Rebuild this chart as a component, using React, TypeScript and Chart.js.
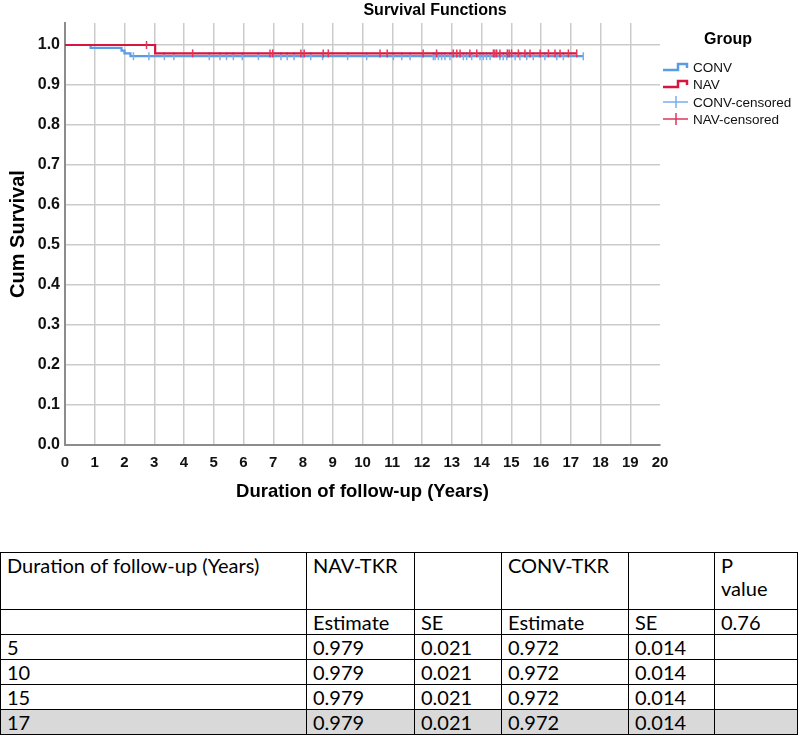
import React, { useEffect, useRef } from 'react';
import { Chart, registerables } from 'chart.js';

Chart.register(...registerables);

// ---- data ----
const convTimes = [0, 0.86, 1.9, 2.0, 2.2, 17.42];
const convSurv = [1, 0.993, 0.986, 0.979, 0.972, 0.972];
const navTimes = [0, 3.03, 17.2];
const navSurv = [1, 0.979, 0.979];

const convCensored = [
  2.3, 2.82, 3.34, 3.66, 4.85, 5.21, 5.43, 5.66, 5.96, 6.5, 7.26, 7.47, 7.7, 8.26, 8.66, 9.5,
  10.14, 11.04, 11.32, 11.6, 12.38, 12.44, 12.55, 12.66, 12.77, 12.94, 13.39, 13.5, 13.67,
  13.95, 14.06, 14.17, 14.29, 14.62, 14.73, 14.85, 15.13, 15.29, 15.52, 15.74, 16.13, 16.53,
  16.75, 17.42,
];
const navCensored = [
  2.74, 4.29, 6.89, 6.98, 7.93, 8.04, 8.68, 8.85, 10.59, 10.83, 12.04, 12.49, 13.05, 13.17,
  13.28, 13.61, 13.84, 14.4, 14.45, 14.51, 14.62, 14.87, 14.93, 15.01, 15.24, 15.46, 15.63,
  15.97, 16.25, 16.47, 16.64, 16.92, 17.2,
];

const xTicks = [0, 1, 2, 3, 4, 5, 6, 7, 8, 9, 10, 11, 12, 13, 14, 15, 16, 17, 18, 19, 20];
const yTicks = [0, 0.1, 0.2, 0.3, 0.4, 0.5, 0.6, 0.7, 0.8, 0.9, 1.0];

const chartTitle = 'Survival Functions';
const xTitle = 'Duration of follow-up (Years)';
const yTitle = 'Cum Survival';
const legendTitle = 'Group';
const legendLabels = ['CONV', 'NAV', 'CONV-censored', 'NAV-censored'];

const tableHeader1 = ['Duration of follow-up (Years)', 'NAV-TKR', '', 'CONV-TKR', '', 'P\nvalue'];
const tableHeader2 = ['', 'Estimate', 'SE', 'Estimate', 'SE', '0.76'];
const tableYears = ['5', '10', '15', '17'];
const navEstimate = ['0.979', '0.979', '0.979', '0.979'];
const navSE = ['0.021', '0.021', '0.021', '0.021'];
const convEstimate = ['0.972', '0.972', '0.972', '0.972'];
const convSE = ['0.014', '0.014', '0.014', '0.014'];

const BLUE = '#5b9be3';
const RED = '#d7163f';
const BLUE_C = '#79aef0';
const RED_C = '#e0365c';

function survAt(times: number[], surv: number[], t: number) {
  let s = surv[0];
  for (let i = 0; i < times.length; i++) if (times[i] <= t) s = surv[i];
  return s;
}

const FONT = '"Liberation Sans", Arial, sans-serif';

const overlayPlugin = {
  id: 'overlay',
  afterDraw(chart: any) {
    const ctx = chart.ctx as CanvasRenderingContext2D;
    const { left, right, top, bottom } = chart.chartArea;
    ctx.save();
    ctx.fillStyle = '#000';
    ctx.textBaseline = 'middle';
    ctx.textAlign = 'center';
    ctx.font = `bold 16px ${FONT}`;
    ctx.fillText(chartTitle, 435, 11);
    ctx.font = `bold 18.5px ${FONT}`;
    ctx.fillText(xTitle, (left + right) / 2, bottom + 47);
    ctx.save();
    ctx.translate(18, (top + bottom) / 2);
    ctx.rotate(-Math.PI / 2);
    ctx.font = `bold 20px ${FONT}`;
    ctx.fillText(yTitle, 0, 0);
    ctx.restore();

    // legend
    ctx.font = `bold 16px ${FONT}`;
    ctx.fillText(legendTitle, 728, 40);
    ctx.textAlign = 'left';
    ctx.font = `13.5px ${FONT}`;
    const ys = [67, 84, 102, 119];
    const x0 = right + 3;
    const colors = [BLUE, RED, BLUE_C, RED_C];
    legendLabels.forEach((lab, i) => {
      const y = ys[i];
      ctx.strokeStyle = colors[i];
      ctx.beginPath();
      if (i < 2) {
        ctx.lineWidth = 2.5;
        ctx.moveTo(x0, y + 3);
        ctx.lineTo(x0 + 15, y + 3);
        ctx.lineTo(x0 + 15, y - 3);
        ctx.lineTo(x0 + 24, y - 3);
        ctx.lineTo(x0 + 24, y + 1);
      } else {
        ctx.lineWidth = 1.5;
        ctx.moveTo(x0, y);
        ctx.lineTo(x0 + 25, y);
        ctx.moveTo(x0 + 13, y - 6);
        ctx.lineTo(x0 + 13, y + 6);
      }
      ctx.stroke();
      ctx.fillStyle = '#111';
      ctx.fillText(lab, x0 + 30, y + 1);
    });
    ctx.restore();
  },
};

function KMChart() {
  const ref = useRef<HTMLCanvasElement | null>(null);
  useEffect(() => {
    if (!ref.current) return;
    const convLine = convTimes.map((t, i) => ({ x: t, y: convSurv[i] }));
    const navLine = navTimes.map((t, i) => ({ x: t, y: navSurv[i] }));
    const convC = convCensored.map((t) => ({ x: t, y: survAt(convTimes, convSurv, t) }));
    const navC = navCensored.map((t) => ({ x: t, y: survAt(navTimes, navSurv, t) }));
    const chart = new Chart(ref.current, {
      type: 'scatter',
      data: {
        datasets: [
          {
            label: 'NAV-censored',
            data: navC,
            order: 0,
            pointStyle: 'line',
            rotation: 90,
            radius: 4,
            borderColor: RED_C,
            backgroundColor: RED_C,
            borderWidth: 1.5,
            showLine: false,
          } as any,
          {
            label: 'NAV',
            data: navLine,
            order: 1,
            showLine: true,
            stepped: true,
            borderColor: RED,
            borderWidth: 2.2,
            pointRadius: 0,
            fill: false,
          },
          {
            label: 'CONV-censored',
            data: convC,
            order: 2,
            pointStyle: 'line',
            rotation: 90,
            radius: 4,
            borderColor: BLUE_C,
            backgroundColor: BLUE_C,
            borderWidth: 1.5,
            showLine: false,
          },
          {
            label: 'CONV',
            data: convLine,
            order: 3,
            showLine: true,
            stepped: true,
            borderColor: BLUE,
            borderWidth: 2.2,
            pointRadius: 0,
            fill: false,
          },
        ],
      },
      options: {
        animation: false,
        responsive: false,
        maintainAspectRatio: false,
        events: [],
        layout: { padding: { left: 0, right: 140, top: 23, bottom: 0 } },
        plugins: {
          legend: { display: false },
          tooltip: { enabled: false },
          title: { display: false },
        },
        scales: {
          x: {
            type: 'linear',
            min: 0,
            max: 20,
            afterBuildTicks: (s: any) => {
              s.ticks = xTicks.map((v) => ({ value: v }));
            },
            afterFit: (s: any) => {
              s.height = 70;
            },
            grid: {
              color: (c: any) => (c.tick && c.tick.value === 20 ? 'rgba(0,0,0,0)' : '#cbcbcb'),
              lineWidth: 1.5,
              drawTicks: false,
            },
            border: { color: '#8c8c8c', width: 2 },
            ticks: {
              font: { family: FONT, size: 15, weight: 'bold' },
              color: '#111',
              padding: 9,
              maxRotation: 0,
              autoSkip: false,
              callback: (v: any) => String(v),
            },
          },
          y: {
            type: 'linear',
            min: 0,
            max: 1.055,
            afterBuildTicks: (s: any) => {
              s.ticks = yTicks.map((v) => ({ value: v }));
            },
            afterFit: (s: any) => {
              s.width = 65;
            },
            grid: {
              color: '#cbcbcb',
              lineWidth: 1.5,
              drawTicks: false,
            },
            border: { color: '#8c8c8c', width: 2 },
            ticks: {
              font: { family: FONT, size: 16, weight: 'bold' },
              color: '#111',
              padding: 5,
              callback: (v: any) => Number(v).toFixed(1),
            },
          },
        },
      },
      plugins: [overlayPlugin],
    });
    return () => chart.destroy();
  }, []);
  return <canvas ref={ref} width={800} height={515} style={{ width: 800, height: 515, display: 'block' }} />;
}

const cellStyle: React.CSSProperties = {
  border: '1px solid #000',
  padding: '1px 6px 0 6px',
  verticalAlign: 'top',
  textAlign: 'left',
  lineHeight: '23px',
  height: 23,
  whiteSpace: 'pre-line',
  boxSizing: 'content-box',
};

export default function App() {
  const colW = [306, 108, 87, 127, 86, 83];
  const rows = tableYears.map((y, i) => [y, navEstimate[i], navSE[i], convEstimate[i], convSE[i], '']);
  return (
    <div style={{ position: 'absolute', left: 0, top: 0, width: 800, height: 738, background: '#fff' }}>
      <KMChart />
      <table
        style={{
          position: 'absolute',
          left: 0,
          top: 552,
          borderCollapse: 'collapse',
          tableLayout: 'fixed',
          width: colW.reduce((a, b) => a + b, 0),
          fontFamily: 'Lato, "Open Sans", sans-serif',
          fontSize: 20,
          color: '#000',
        }}
      >
        <colgroup>
          {colW.map((w, i) => (
            <col key={i} style={{ width: w }} />
          ))}
        </colgroup>
        <tbody>
          <tr style={{ height: 57 }}>
            {tableHeader1.map((t, i) => (
              <td key={i} style={{ ...cellStyle, height: 55 }}>{t}</td>
            ))}
          </tr>
          <tr>
            {tableHeader2.map((t, i) => (
              <td key={i} style={cellStyle}>{t}</td>
            ))}
          </tr>
          {rows.map((r, ri) => (
            <tr key={ri} style={{ background: ri === rows.length - 1 ? '#d9d9d9' : '#fff' }}>
              {r.map((t, i) => (
                <td key={i} style={cellStyle}>{t}</td>
              ))}
            </tr>
          ))}
        </tbody>
      </table>
    </div>
  );
}
